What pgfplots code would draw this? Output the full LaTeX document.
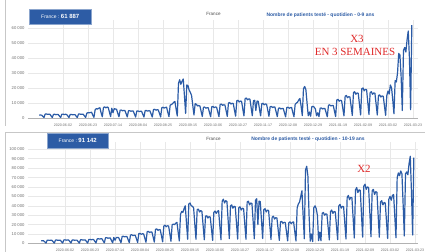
\documentclass[border=0pt]{standalone}
\usepackage{pgfplots}
\pgfplotsset{compat=1.18}
\usepackage{pgfplotstable}
\usepackage{fontspec}
\setmainfont{Liberation Sans}
\newfontfamily\annfont{Liberation Serif}
\definecolor{lineblue}{HTML}{2B5BA6}
\definecolor{boxblue}{HTML}{2D5CA5}
\definecolor{gridgray}{HTML}{E8E8E8}
\definecolor{labgray}{HTML}{707070}
\definecolor{annred}{HTML}{E02A2A}

% daily values from 2020-05-13 (day -20) to 2021-03-22 (day 293)
% t = 0-9 ans, b = 10-19 ans
\pgfplotstableread{
t b
1900 2800
2000 2900
1900 2900
1100 1700
300 400
2600 3500
2700 3600
2400 3300
2500 3400
2500 3400
1400 1900
350 450
2400 3600
2500 3700
2200 3350
2350 3500
2300 3500
1300 2000
300 450
2500 3800
2600 3900
2300 3550
2450 3700
2400 3700
1400 2100
300 500
2300 3700
2400 3800
2150 3450
2250 3600
2250 3600
1300 2000
300 450
2600 3900
2700 4000
2400 3600
2550 3800
2500 3800
1450 2100
350 500
3200 4300
3600 4400
3400 4000
3700 4200
3800 4200
2000 2400
450 550
5500 4900
6200 5100
6000 4700
6500 5000
6800 5000
3500 2800
800 650
7000 6000
7400 6200
6800 5600
7300 5900
7000 5900
3900 3300
900 750
6500 6500
3500 3500
6200 6200
6000 6500
5800 6300
3200 3600
800 800
5200 7500
5300 7700
4800 7000
5100 7400
5000 7300
2900 4100
700 950
4800 9000
4900 9300
4500 8400
4700 8800
4650 8700
2650 5000
650 1100
4600 10500
4700 10800
4300 9800
4500 10300
4450 10200
2550 5800
600 1300
4900 12500
5000 12900
4600 11600
4800 12300
4750 12100
2700 6900
650 1500
5600 15000
5800 15500
5200 14000
5500 14700
5400 14500
3100 8300
700 1800
6800 18500
7200 19500
6600 17800
7000 18800
7200 18600
3900 10500
900 2300
8500 20000
9000 20500
9500 20000
10500 21500
11000 22500
6000 12500
1300 2700
23000 31000
25500 34000
22500 33000
24500 37000
26000 40000
15000 22000
3000 4500
22000 42000
21500 43000
18500 40000
17000 39500
15000 38000
8500 21000
2000 4500
9500 36000
9200 36500
8000 33500
8300 35000
8000 34000
4500 19000
1000 4000
7200 29000
7300 29500
6500 27000
6900 28500
6800 28000
3800 15500
850 3300
7500 33000
7700 34500
6900 32000
7300 34000
7200 35000
4000 19000
900 4000
9000 45000
9300 47000
8400 43000
8800 45500
8700 44500
4900 25000
1100 5200
10000 40000
10300 41000
9300 37500
9800 39500
9700 39000
5400 22000
1200 4700
11500 38000
11800 39000
10700 35500
11300 37500
11100 37000
6200 20500
1400 4500
13000 44000
13300 45000
12100 41000
12700 43000
12600 42500
7100 24000
1500 5000
11500 46000
11800 47500
5000 20000
11300 45000
11100 44500
6200 25000
1400 5300
9500 36000
9800 37000
8800 33500
9300 35500
9200 35000
5200 19500
1100 4300
7500 28000
7700 29000
7000 26000
7300 27500
7300 27000
4100 15000
900 3300
6500 23000
6700 23500
6000 21500
6400 22500
6300 22300
3600 12500
800 2800
7000 22000
7200 23000
6500 21000
6900 22500
7000 23000
3800 12500
850 2700
9000 38000
10000 42000
10500 44000
12000 50000
13000 56000
8000 30000
1600 5000
19500 78000
21000 82000
19000 72000
10000 30000
1500 2500
4000 10000
1200 2000
7500 38000
7800 40000
7200 37000
6000 30000
1500 3000
3500 12000
900 3000
6500 32000
6700 33000
6000 30000
6400 31500
6300 31000
3600 17500
800 3800
8500 34000
8800 35500
8000 32000
8400 34000
8300 33500
4700 19000
1000 4000
12000 40000
12400 41500
11200 37500
11800 39500
11600 39000
6600 22000
1400 4800
14500 49000
15000 51000
13500 46500
14200 49000
14000 48500
8000 27000
1700 5800
17000 57000
17500 59500
15800 54000
16700 57000
16500 56500
9300 31500
2000 6800
19500 61000
20000 63000
18100 57500
19100 60000
18900 59500
10700 33500
2300 7200
17000 56000
17500 57500
15800 52000
16700 55000
16500 54500
9300 30500
2000 6700
15000 44000
15400 45500
14000 41000
14700 43500
14500 43000
8200 24000
1800 5300
15000 47000
18000 50000
16000 46000
22000 51000
20000 52000
12000 29000
2800 6000
25000 70000
24000 75000
30000 72000
43000 77000
42000 74000
28000 42000
5000 8000
45000 74000
47000 76000
44000 73000
52000 85000
58000 92600
40000 55000
5500 9000
61887 91142
}\datatable

\pgfplotsset{
  panel/.style={
    scale only axis, anchor=south west,
    axis x line*=bottom, axis y line*=left,
    x axis line style={draw=black!30, line width=0.5bp, -},
    y axis line style={draw=none, -},
    major tick length=0pt,
    grid=major,
    major grid style={draw=gridgray, line width=0.5bp},
    xtick={0,21,...,294},
    xticklabels={2020-06-02,2020-06-23,2020-07-14,2020-08-04,2020-08-25,2020-09-15,2020-10-06,2020-10-27,2020-11-17,2020-12-08,2020-12-29,2021-01-19,2021-02-09,2021-03-02,2021-03-23},
    x tick label style={font=\fontsize{3.6}{4}\selectfont, text=labgray, yshift=-2bp},
    y tick label style={font=\fontsize{4.2}{5}\selectfont, text=labgray},
    scaled y ticks=false,
    ymin=0,
  },
  dataline/.style={lineblue, line width=1.2bp, line join=round},
}

\begin{document}
\begin{tikzpicture}[x=1bp,y=1bp]
\useasboundingbox (0,0) rectangle (425bp,252bp);
\fill[white] (0,0) rectangle (425bp,252bp);
\draw[black!22, line width=0.7bp] (5bp,252bp) -- (5bp,126bp);
\draw[black!22, line width=0.7bp] (5bp,0bp) -- (5bp,120bp) -- (425bp,120bp);

% ---------- top chart : 0-9 ans ----------
\begin{axis}[panel, at={(28bp,134bp)}, width=390bp, height=97.5bp,
  xmin=-29.4, xmax=298.2, ymax=65000,
  ytick={0,10000,20000,30000,40000,50000,60000},
  yticklabels={0,10 000,20 000,30 000,40 000,50 000,60 000}]
\addplot[dataline] table[x expr=\coordindex-20, y=t]{\datatable};
\end{axis}

% ---------- bottom chart : 10-19 ans ----------
\begin{axis}[panel, at={(28bp,8.5bp)}, width=390bp, height=101.7bp,
  xmin=-31.1, xmax=296.5, ymax=108000,
  ytick={0,10000,20000,30000,40000,50000,60000,70000,80000,90000,100000},
  yticklabels={0,10 000,20 000,30 000,40 000,50 000,60 000,70 000,80 000,90 000,100 000}]
\addplot[dataline] table[x expr=\coordindex-20, y=b]{\datatable};
\end{axis}

% ---------- labels ----------
\node[fill=boxblue, draw=boxblue!55!white, line width=0.5bp, text=white,
  minimum width=62bp, minimum height=15bp, inner sep=0pt, anchor=north west]
  at (29bp,243bp) {\fontsize{5}{6}\selectfont France :\hspace{1.5bp}\textbf{\fontsize{6}{7}\selectfont 61 887}};
\node[fill=boxblue, draw=boxblue!55!white, line width=0.5bp, text=white,
  minimum width=61bp, minimum height=15bp, inner sep=0pt, anchor=north west]
  at (47bp,119bp) {\fontsize{5}{6}\selectfont France :\hspace{1.5bp}\textbf{\fontsize{6}{7}\selectfont 91 142}};

\node[text=black!70, inner sep=0pt] at (213.5bp,238bp) {\fontsize{4.6}{5}\selectfont France};
\node[text=black!70, inner sep=0pt] at (213.5bp,113bp) {\fontsize{4.6}{5}\selectfont France};

\node[text=boxblue, inner sep=0pt] at (320.5bp,237bp)
  {\fontsize{5}{6}\selectfont\bfseries Nombre de patients testé - quotidien - 0-9 ans};
\node[text=boxblue, inner sep=0pt] at (308bp,113bp)
  {\fontsize{5}{6}\selectfont\bfseries Nombre de patients testé - quotidien - 10-19 ans};

\node[text=annred, inner sep=0pt] at (357bp,213bp) {\annfont\fontsize{11}{12}\selectfont X3};
\node[text=annred, inner sep=0pt] at (355bp,200bp) {\annfont\fontsize{11}{12}\selectfont EN 3 SEMAINES};
\node[text=annred, inner sep=0pt] at (364bp,83bp) {\annfont\fontsize{11}{12}\selectfont X2};
\end{tikzpicture}
\end{document}
